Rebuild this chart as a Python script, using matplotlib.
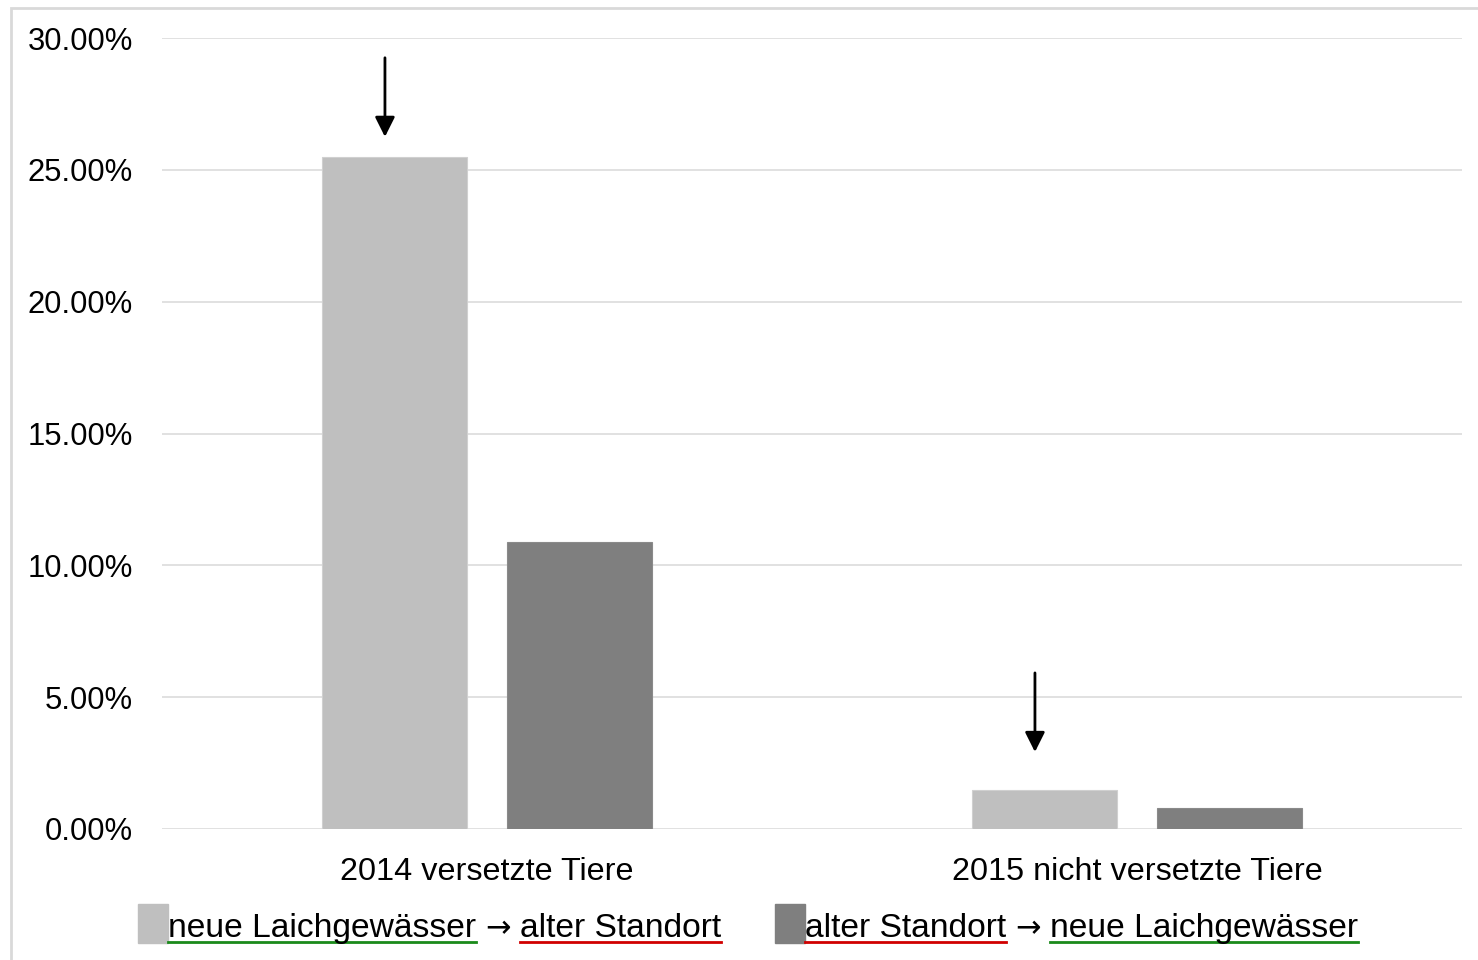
import matplotlib
matplotlib.use("Agg")
import matplotlib.pyplot as plt
from matplotlib.patches import Rectangle
from matplotlib.lines import Line2D

categories = ["2014 versetzte Tiere", "2015 nicht versetzte Tiere"]
neu_zu_alt = [25.5, 1.48]     # neue Laichgewässer -> alter Standort
alt_zu_neu = [10.88, 0.80]    # alter Standort -> neue Laichgewässer
arrow_tips = [26.25, 2.92]
yticks = [0, 5, 10, 15, 20, 25, 30]

light, dark = "#bfbfbf", "#7f7f7f"
green, red = "#1a8a1a", "#d00000"

plt.rcParams["font.family"] = ["Liberation Sans", "DejaVu Sans"]

W, H = 1478, 960
fig = plt.figure(figsize=(W / 100, H / 100), dpi=100)
ax = fig.add_axes([162 / W, 1 - 829 / H, 1300 / W, 791 / H])

xs = list(range(len(categories)))
w, off = 0.223, 0.1425
ax.bar([i - off for i in xs], neu_zu_alt, w, color=light, edgecolor="#d0d0d0", lw=0.8, zorder=3)
ax.bar([i + off for i in xs], alt_zu_neu, w, color=dark, edgecolor="#8a8a8a", lw=0.8, zorder=3)

for i, tip in zip(xs, arrow_tips):
    ax.annotate("", xy=(i - 0.157, tip), xytext=(i - 0.157, tip + 3.0),
                arrowprops=dict(arrowstyle="-|>", color="black", lw=2,
                                mutation_scale=30, shrinkA=0, shrinkB=0), zorder=4)

ax.set_xlim(-0.5, 1.5)
ax.set_ylim(0, 30)
ax.set_yticks(yticks)
ax.set_yticklabels([f"{v:.2f}%" for v in yticks], fontsize=22.3)
ax.set_xticks(xs)
ax.set_xticklabels(categories, fontsize=23.3)
ax.tick_params(axis="y", length=0, pad=21)
ax.tick_params(axis="x", length=0, pad=20)
ax.grid(axis="y", color="#dcdcdc", lw=1.2, zorder=0)
for s in ax.spines.values():
    s.set_visible(False)

# outer frame
fig.patches.append(Rectangle((11 / W, -0.02), 1.2, (H - 8) / H + 0.02, transform=fig.transFigure,
                             fill=False, ec="#d9d9d9", lw=2))

# legend with coloured underlines
renderer = fig.canvas.get_renderer()


def legend_item(x0, color, parts):
    fig.patches.append(Rectangle((x0 / W, 1 - 943 / H), 30 / W, 39 / H,
                                 transform=fig.transFigure, color=color))
    x = x0 + 30
    for txt, ucol in parts:
        if ucol:
            t = fig.text(x / W, 1 - 937 / H, txt, fontsize=24.2, va="baseline", ha="left")
        else:
            x += 9
            t = fig.text(x / W, 1 - 937 / H, txt, fontsize=22, va="baseline", ha="left",
                         family="DejaVu Sans")
        bb = t.get_window_extent(renderer)
        if ucol:
            fig.lines.append(Line2D([bb.x0 / W, bb.x1 / W], [1 - 942 / H] * 2,
                                    transform=fig.transFigure, color=ucol, lw=2))
            x = bb.x1
        else:
            x = bb.x1 + 9


legend_item(138, light, [("neue Laichgewässer", green), ("→", None), ("alter Standort", red)])
legend_item(775, dark, [("alter Standort", red), ("→", None), ("neue Laichgewässer", green)])

fig.savefig("out.png", dpi=100)
